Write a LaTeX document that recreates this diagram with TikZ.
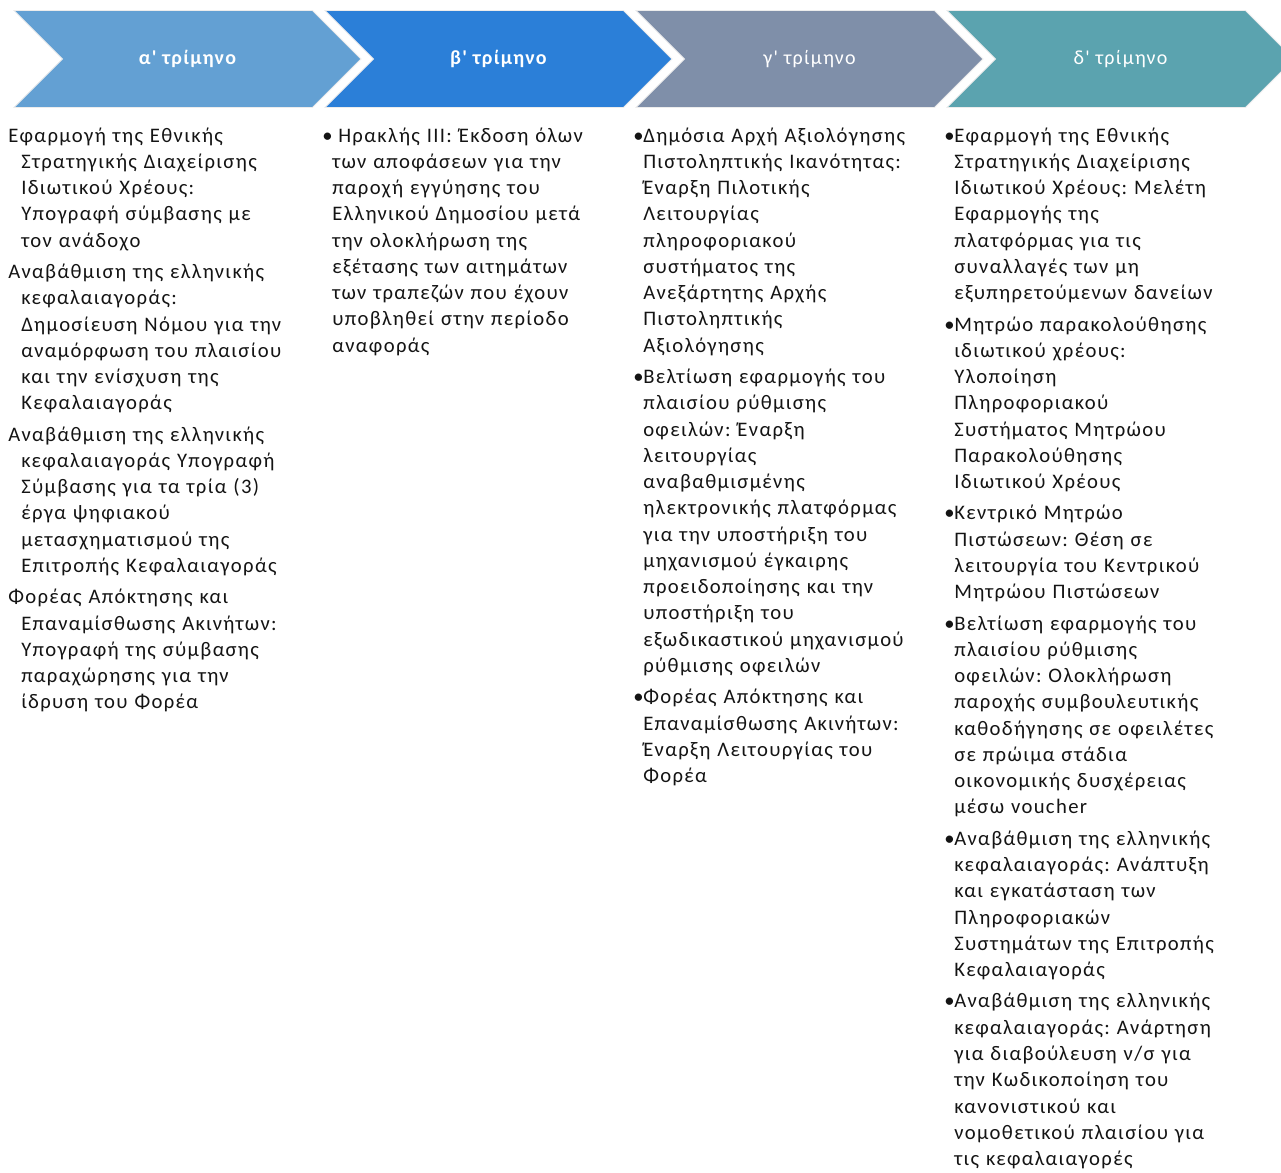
\documentclass[tikz,border=0pt]{standalone}
\usepackage{fontspec}
\setmainfont{Carlito}[Ligatures=TeXOff, LetterSpace=6.5]
\usetikzlibrary{positioning,shapes.symbols}
\definecolor{QOne}{HTML}{63A0D3}
\definecolor{QTwo}{HTML}{2B7FD8}
\definecolor{QThree}{HTML}{7F8FA9}
\definecolor{QFour}{HTML}{5BA3AF}
\definecolor{InkGray}{HTML}{141414}
\newcommand{\colfont}{\fontsize{15.5pt}{19.7pt}\selectfont\frenchspacing\spaceskip=0.47em\relax\setlength{\parskip}{3.8pt}}
\newcommand{\hangpar}[1]{\par\noindent\hspace*{-#1}}
\newcommand{\blt}[1]{\makebox[#1][l]{•}}

\begin{document}
\begin{tikzpicture}[
    x=0.75pt, y=-0.75pt,
    font=\colfont,
    % chevrons of the four quarters
    qbox/.style={signal, signal to=east, signal from=west, signal pointer angle=90,
        minimum width=260.25pt, minimum height=72.75pt, inner sep=0pt, text=white,
        font=\fontsize{15pt}{18pt}\selectfont, draw=white!85!gray, line width=0.6pt},
    colbox/.style={anchor=north west, align=left, inner sep=0pt, text width=250pt, text=InkGray}
]
\useasboundingbox (0,0) rectangle (1281,1173);

% chevrons
\node[qbox, fill=QOne] (q1) at (187.5,59) {\bfseries α' τρίμηνο};
\node[qbox, fill=QTwo] (q2) at (498.5,59) {\bfseries β' τρίμηνο};
\node[qbox, fill=QThree] (q3) at (809.5,59) {γ' τρίμηνο};
\node[qbox, fill=QFour] (q4) at (1120.5,59) {δ' τρίμηνο};

% first quarter
\node[colbox] (c1) at (8,110.5) {\leftskip=9.75pt
\hangpar{9.75pt}Εφαρμογή της Εθνικής\\
Στρατηγικής Διαχείρισης\\
Ιδιωτικού Χρέους:\\
Υπογραφή σύμβασης με\\
τον ανάδοχο
\hangpar{9.75pt}Αναβάθμιση της ελληνικής\\
κεφαλαιαγοράς:\\
Δημοσίευση Νόμου για την\\
αναμόρφωση του πλαισίου\\
και την ενίσχυση της\\
Κεφαλαιαγοράς
\hangpar{9.75pt}Αναβάθμιση της ελληνικής\\
κεφαλαιαγοράς Υπογραφή\\
Σύμβασης για τα τρία (3)\\
έργα ψηφιακού\\
μετασχηματισμού της\\
Επιτροπής Κεφαλαιαγοράς
\hangpar{9.75pt}Φορέας Απόκτησης και\\
Επαναμίσθωσης Ακινήτων:\\
Υπογραφή της σύμβασης\\
παραχώρησης για την\\
ίδρυση του Φορέα\par};

% second quarter
\node[colbox] (c2) at (322,110.5) {\leftskip=7.5pt
\hangpar{7.5pt}\blt{12pt}Ηρακλής III: Έκδοση όλων\\
των αποφάσεων για την\\
παροχή εγγύησης του\\
Ελληνικού Δημοσίου μετά\\
την ολοκλήρωση της\\
εξέτασης των αιτημάτων\\
των τραπεζών που έχουν\\
υποβληθεί στην περίοδο\\
αναφοράς\par};

% third quarter
\node[colbox] (c3) at (633,110.5) {\leftskip=7.5pt
\hangpar{7.5pt}\blt{7.5pt}Δημόσια Αρχή Αξιολόγησης\\
Πιστοληπτικής Ικανότητας:\\
Έναρξη Πιλοτικής\\
Λειτουργίας\\
πληροφοριακού\\
συστήματος της\\
Ανεξάρτητης Αρχής\\
Πιστοληπτικής\\
Αξιολόγησης
\hangpar{7.5pt}\blt{7.5pt}Βελτίωση εφαρμογής του\\
πλαισίου ρύθμισης\\
οφειλών: Έναρξη\\
λειτουργίας\\
αναβαθμισμένης\\
ηλεκτρονικής πλατφόρμας\\
για την υποστήριξη του\\
μηχανισμού έγκαιρης\\
προειδοποίησης και την\\
υποστήριξη του\\
εξωδικαστικού μηχανισμού\\
ρύθμισης οφειλών
\hangpar{7.5pt}\blt{7.5pt}Φορέας Απόκτησης και\\
Επαναμίσθωσης Ακινήτων:\\
Έναρξη Λειτουργίας του\\
Φορέα\par};

% fourth quarter
\node[colbox] (c4) at (944,110.5) {\leftskip=7.5pt
\hangpar{7.5pt}\blt{7.5pt}Εφαρμογή της Εθνικής\\
Στρατηγικής Διαχείρισης\\
Ιδιωτικού Χρέους: Μελέτη\\
Εφαρμογής της\\
πλατφόρμας για τις\\
συναλλαγές των μη\\
εξυπηρετούμενων δανείων
\hangpar{7.5pt}\blt{7.5pt}Μητρώο παρακολούθησης\\
ιδιωτικού χρέους:\\
Υλοποίηση\\
Πληροφοριακού\\
Συστήματος Μητρώου\\
Παρακολούθησης\\
Ιδιωτικού Χρέους
\hangpar{7.5pt}\blt{7.5pt}Κεντρικό Μητρώο\\
Πιστώσεων: Θέση σε\\
λειτουργία του Κεντρικού\\
Μητρώου Πιστώσεων
\hangpar{7.5pt}\blt{7.5pt}Βελτίωση εφαρμογής του\\
πλαισίου ρύθμισης\\
οφειλών: Ολοκλήρωση\\
παροχής συμβουλευτικής\\
καθοδήγησης σε οφειλέτες\\
σε πρώιμα στάδια\\
οικονομικής δυσχέρειας\\
μέσω voucher
\hangpar{7.5pt}\blt{7.5pt}Αναβάθμιση της ελληνικής\\
κεφαλαιαγοράς: Ανάπτυξη\\
και εγκατάσταση των\\
Πληροφοριακών\\
Συστημάτων της Επιτροπής\\
Κεφαλαιαγοράς
\hangpar{7.5pt}\blt{7.5pt}Αναβάθμιση της ελληνικής\\
κεφαλαιαγοράς: Ανάρτηση\\
για διαβούλευση ν/σ για\\
την Κωδικοποίηση του\\
κανονιστικού και\\
νομοθετικού πλαισίου για\\
τις κεφαλαιαγορές\par};
\end{tikzpicture}
\end{document}
